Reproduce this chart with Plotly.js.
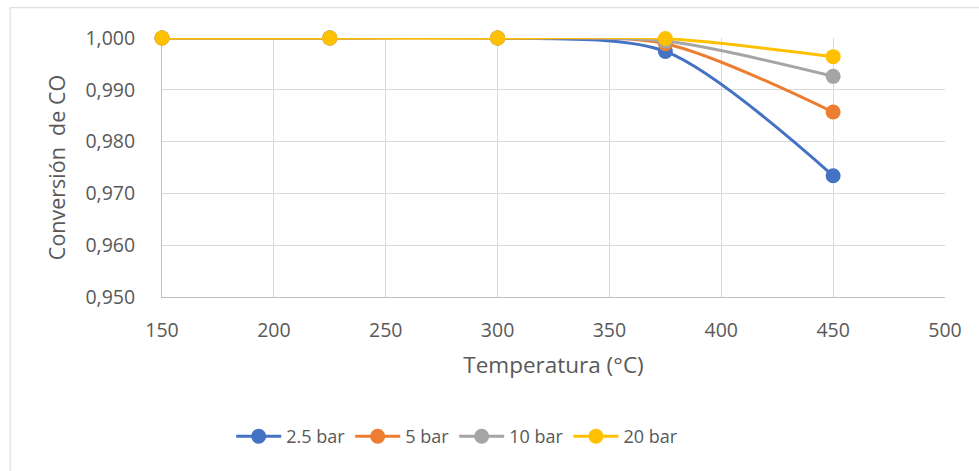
<!DOCTYPE html>
<html>
<head>
<meta charset="utf-8">
<script src="https://cdn.plot.ly/plotly-3.0.1.min.js"></script>
<style>html,body{margin:0;padding:0;background:#fff;}#chart{width:979px;height:471px;}</style>
</head>
<body>
<div id="chart"></div>
<script>
const temperatures = [150, 225, 300, 375, 450];
const seriesNames = ["2.5 bar", "5 bar", "10 bar", "20 bar"];
const conv_2_5bar = [1.0000, 1.0000, 1.0000, 0.9974, 0.9734];
const conv_5bar   = [1.0000, 1.0000, 1.0000, 0.9989, 0.9857];
const conv_10bar  = [1.0000, 1.0000, 1.0000, 0.9994, 0.9926];
const conv_20bar  = [1.0000, 1.0000, 1.0000, 0.9999, 0.9964];
const colors = ["#4472C4", "#ED7D31", "#A5A5A5", "#FFC000"];
const allSeries = [conv_2_5bar, conv_5bar, conv_10bar, conv_20bar];

const font = "'Open Sans', 'Noto Sans', sans-serif";
const traces = allSeries.map((ys, i) => ({
  x: temperatures, y: ys, name: seriesNames[i], type: "scatter", mode: "lines+markers",
  line: {color: colors[i], width: 3, shape: "spline", smoothing: 0.8},
  marker: {color: colors[i], size: 15},
  cliponaxis: false
}));

const layout = {
  width: 979, height: 471,
  margin: {l: 162, r: 34, t: 38, b: 174},
  paper_bgcolor: "#fff", plot_bgcolor: "#fff",
  separators: ",.",
  font: {family: font, color: "#595959", size: 19},
  showlegend: true,
  legend: {orientation: "h", x: 0.377, xanchor: "center", y: -0.539, yanchor: "middle",
           font: {size: 18, color: "#595959"}, itemwidth: 45, traceorder: "normal"},
  xaxis: {
    range: [150, 500], dtick: 50, tick0: 150, showgrid: true, gridcolor: "#d9d9d9", gridwidth: 1,
    zeroline: false, showline: true, linecolor: "#bfbfbf", ticks: "", ticklabelstandoff: 16,
    tickfont: {size: 19.5, color: "#595959"},
    title: {text: "Temperatura (°C)", font: {size: 22.5, color: "#595959"}, standoff: 14}
  },
  yaxis: {
    range: [0.95, 1.0], dtick: 0.01, tick0: 0.95, tickformat: ".3f", showgrid: true, gridcolor: "#d9d9d9", gridwidth: 1,
    zeroline: false, showline: true, linecolor: "#bfbfbf", ticks: "", ticklabelstandoff: 22,
    tickfont: {size: 19.5, color: "#595959"},
    title: {text: "Conversión\u00a0 de CO", font: {size: 21.5, color: "#595959"}, standoff: 13}
  },
  shapes: [{type: "rect", xref: "paper", yref: "paper", x0: -0.194, x1: 1.2, y0: -1.0, y1: 1.117,
            line: {color: "#d9d9d9", width: 1}, fillcolor: "rgba(0,0,0,0)", layer: "below"}]
};
Plotly.newPlot("chart", traces, layout, {displayModeBar: false, staticPlot: true});
</script>
</body>
</html>
